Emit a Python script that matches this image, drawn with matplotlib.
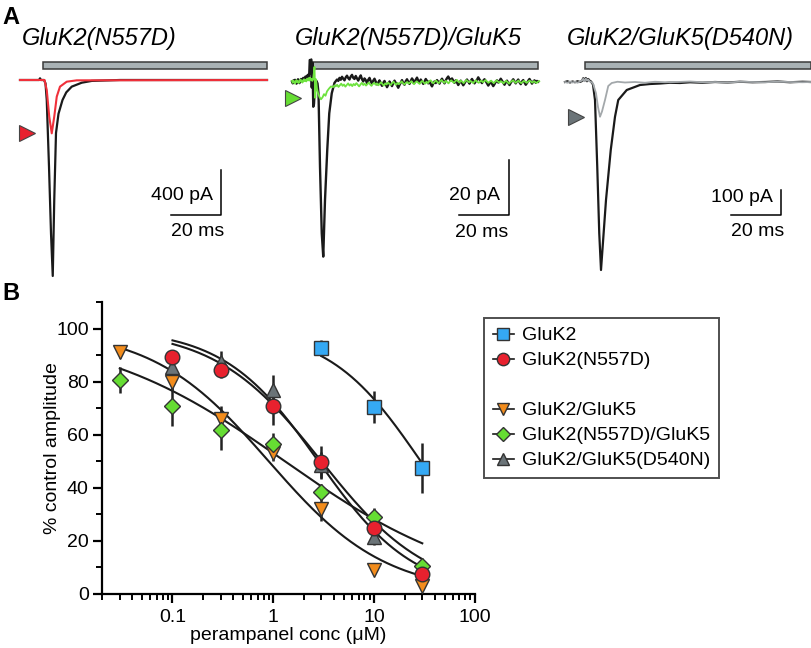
import numpy as np
import matplotlib
matplotlib.use('Agg')
import matplotlib.pyplot as plt
from matplotlib.lines import Line2D
from matplotlib.patches import Rectangle
from matplotlib.ticker import LogLocator, NullFormatter, FixedLocator

plt.rcParams['font.family'] = ['Liberation Sans', 'DejaVu Sans']

W, H = 812, 648

# ---------------- panel A traces (ms, pA) ----------------
# GluK2(N557D)
l_black_t = [0, 7.6, 8.0, 8.4, 9.6, 10.2, 10.7, 11.6, 12.4, 13.1, 13.7, 14.4, 15.4, 17.0, 18.5, 20.7, 24.7, 28.7, 40, 98.8]
l_black_v = [0, 0, 15, 0, 0, -30, -178, -770, -1363, -1742, -1067, -471, -300, -178, -110, -59, -24, -8, 0, 0]
l_red_t = [0, 9.8, 10.7, 11.7, 12.7, 13.7, 14.7, 16.0, 18.7, 22.7, 98.8]
l_red_v = [0, 0, -89, -326, -474, -326, -148, -59, -15, -3, 0]

# GluK2(N557D)/GluK5 (noisy)
m_black_pre = [0.2, -0.5, 0.6, -0.2, 0.8, 0.1, -0.6, 0.4, 1.0, 0.2, -0.4, 0.5, 1.1, 0.3,
               0.9, 1.5, 0.7, 1.4, 2.0, 1.2, 1.8, 2.6, 1.9]
m_black_t = [6.9, 7.1, 7.5, 7.7, 7.9, 8.2, 8.5, 8.8, 9.2, 9.7, 10.2, 10.6, 11.2, 11.9,
             12.5, 13.2, 14.1, 14.9, 15.9, 17.0]
m_black_v = [3.0, 8.0, 7.6, 8.2, -2.0, 7.0, -9.0, -8.0, -1.0, 0.5, -0.5, -4.0, -30.8, -55.0,
             -63.5, -42.9, -24.7, -11.4, -4.1, -0.3]
m_black_tail = [0.3, 0.9, 0.4, 1.5, 0.8, 1.9, 1.2, 0.6, 1.7, 2.3, 1.4, 0.9, 2.0, 2.6, 1.5, 1.1, 2.2, 1.3, 0.5, 1.6,
                2.4, 1.0, 0.2, 1.3, 0.7, -0.4, 0.8, 1.5, 0.3, -0.6, 0.5, 1.2, 0.1, -0.9, -0.2, 0.6, -0.5, -1.4, -0.3, 0.4,
                -0.8, -1.9, -1.0, 0.2, -0.6, -1.5, -0.4, 0.5, -0.3, -1.2, -2.1, -1.1, -0.2, 0.7, -0.4, -1.0, 0.3, 1.0, 0.1, -0.7,
                0.4, 1.3, 0.6, -0.3, 0.8, 1.6, 0.5, -0.2, 0.9, 0.2, -0.7, 0.1, 1.1, 0.4, -0.5, 0.3, -0.8, -1.6, -0.6, 0.2,
                -0.4, 0.7, 0.1, -0.6, 0.5, 1.2, 0.3, -0.5, 0.6, 1.4, 2.0, 1.1, 0.4, 1.3, 0.5, -0.3, 0.6, -0.2, -1.1, -0.3,
                0.5, -0.4, -1.2, -0.5, 0.3, 0.9, 0.2, -0.6, 0.4, 1.1, 0.3, -0.5, 0.2, 0.8, 1.7, 0.9, 0.2, -0.4, 0.5, 1.0,
                0.3, -0.5, -1.3, -0.6, 0.2, -0.7, -1.5, -0.8, 0.1, 0.6, -0.2, 0.4, 1.2, 0.5, -0.3, -1.0, -0.2, 0.5, -0.4, -1.1,
                -0.3, 0.4, 1.0, 0.2, -0.5, 0.3, 0.9, -0.1, -0.8, 0.2, 0.7, -0.2, -1.0, -0.4, 0.5, 1.1, 0.3, -0.6, 0.2, 0.6,
                -0.3, 0.4, 0.1]
m_green_pre = [0.4, -0.3, 0.5, 0.0, -0.6, 0.2, 0.7, -0.1, 0.3, -0.4, 0.4, 0.9, 0.1, 0.6, -0.2,
               0.5, 1.0, 0.3, 0.8, 0.2, 1.2, 0.6, 1.4, 0.5, 1.6, 0.8, 1.1, 0.4, 0.9]
m_green_t = [8.8, 9.0, 9.3, 9.6, 10.0, 10.4, 11.0, 11.6, 12.2, 12.8, 13.4, 14.0, 14.8, 15.6, 16.4, 17.0]
m_green_v = [3.6, 5.5, -5.8, 1.0, -2.5, -4.0, -5.5, -6.3, -5.6, -4.4, -5.0, -3.4, -2.4, -1.6, -1.9, -1.2]
m_green_tail = [-1.6, -1.0, -1.8, -1.2, -0.6, -1.4, -0.9, -1.7, -1.1, -0.5, -1.3, -0.8, -1.5, -0.7, -1.2, -0.4, -1.0, -1.6, -0.9, -0.3,
                -1.1, -0.6, -1.3, -0.8, -0.2, -0.9, -1.4, -0.7, -0.3, -1.0, -0.5, -1.2, -0.6, -0.1, -0.8, -1.3, -0.5, -0.9, -0.2, -0.7,
                -1.1, -0.4, 0.1, -0.6, -1.0, -0.3, -0.8, -0.2, 0.2, -0.5, -0.9, -0.3, 0.0, -0.6, -0.2, 0.3, -0.4, -0.8, -0.1, 0.2,
                -0.3, -0.7, 0.0, 0.4, -0.2, -0.6, 0.1, -0.4, 0.3, 0.6, 0.0, -0.5, 0.2, 0.5, -0.1, -0.4, 0.3, 0.7, 0.1, -0.3,
                0.4, 0.0, -0.5, 0.2, 0.6, 0.1, -0.3, 0.3, 0.8, 0.2, -0.2, 0.5, 0.1, -0.4, 0.2, 0.7, 0.3, -0.1, 0.4, 0.0,
                -0.4, 0.3, 0.6, 0.0, -0.3, 0.2, 0.5, -0.1, 0.3, 0.7, 0.2, -0.3, 0.1, 0.5, 0.0, -0.4, 0.2, 0.6, 0.1, -0.2,
                0.3, 0.0, -0.5, 0.1, 0.4, -0.1, -0.6, 0.0, 0.3, 0.6, 0.1, -0.3, 0.2, 0.5, -0.1, -0.4, 0.1, 0.4, 0.0, -0.3,
                0.2, 0.5, 0.1, -0.2, 0.3, 0.0, -0.4, 0.1, 0.3]

# GluK2/GluK5(D540N)
r_black_t = [0, 1, 2, 3, 4, 5, 6, 6.8, 7.3, 7.8, 8.3, 8.8, 9.3, 9.8, 10.4, 11.2, 12.0, 12.9, 13.7, 14.4, 15.2, 16.4,
             18.3, 20.0, 21.3, 24.7, 30, 34, 38, 42, 46, 50, 55, 60, 65, 70, 75, 80, 85, 90, 95, 98.4]
r_black_v = [0, 3, -2, 2, -1, 3, 0, 4, 15, 5, 16, 3, 12, 6, 2, -10, -72, -339, -605, -752, -640, -472,
             -272, -139, -72, -32, -12, -8, -6, -3, -4, -1, -3, 0, -2, 1, -1, 0, 2, -1, 1, 0]
r_grey_t = [0, 1, 2, 3, 4, 5, 6, 6.8, 7.3, 7.8, 8.3, 8.8, 9.3, 9.8, 10.4, 11.2, 12.4, 13.2, 14.0, 14.8, 16.0, 17.3,
            18.7, 21, 24, 28, 32, 36, 40, 45, 50, 55, 60, 65, 70, 75, 80, 85, 90, 95, 98.4]
r_grey_v = [0, -3, 2, -2, 1, -3, 2, 6, 13, 3, 14, 5, 10, 3, 0, -6, -45, -100, -139, -118, -72, -16,
            -4, 1, -2, 0, -3, 1, -1, 0, 2, -1, 0, -2, 1, 0, -1, 1, 0, -1, 0]

# ---------------- panel B data ----------------
conc = [0.03, 0.1, 0.3, 1, 3, 10, 30]
gluk2_x = [3, 10, 30]
gluk2_y = [92.6, 70.4, 47.4]
gluk2_e = [3, 6, 9.5]
n557d_x = [0.1, 0.3, 1, 3, 10, 30]
n557d_y = [89.4, 84.3, 70.7, 49.6, 24.9, 7.4]
n557d_e = [1.5, 3, 7, 6, 3, 1.5]
k2k5_y = [91, 80, 66, 53, 32, 9, 3]
k2k5_e = [2, 3, 5, 3, 4.5, 1, 1]
n557d_k5_y = [80.6, 70.8, 61.9, 56.6, 38.4, 28.9, 10.4]
n557d_k5_e = [5, 7.5, 7.5, 4, 3, 3.5, 1]
d540n_x = [0.1, 0.3, 1, 3, 10, 30]
d540n_y = [85.7, 87.5, 76.9, 48.5, 21.4, 10]
d540n_e = [2, 4, 5.5, 5, 3, 1]

# Hill fit parameters: (IC50 uM, slope, x range)
fits = {
    'GluK2': (29.0, 0.95, 3, 30),
    'GluK2(N557D)': (2.8, 0.92, 0.1, 30),
    'GluK2/GluK5': (0.9, 0.75, 0.03, 30),
    'GluK2(N557D)/GluK5': (1.3, 0.46, 0.03, 30),
    'GluK2/GluK5(D540N)': (3.0, 0.82, 0.1, 30),
}

c_blue = '#35a9f4'
c_red = '#e8212e'
c_orange = '#f28c1c'
c_green = '#66dd33'
c_grey = '#6b7478'
edge = '#333333'
bar_fc = '#a9b2b5'

fig = plt.figure(figsize=(W / 100, H / 100), dpi=100)


def px_axes(left, top, right, bottom):
    return fig.add_axes([left / W, 1 - bottom / H, (right - left) / W, (bottom - top) / H])


def trace_panel(left, right, top, bottom, t0_px, base_px, ms_px, pa_px):
    ax = px_axes(left, top, right, bottom)
    ax.set_xlim((left - t0_px) / ms_px, (right - t0_px) / ms_px)
    ax.set_ylim((base_px - bottom) / pa_px, (base_px - top) / pa_px)
    ax.axis('off')
    return ax


# left panel
axL = trace_panel(10, 272, 50, 290, 20, 80, 2.5, 0.1125)
axL.plot(l_black_t, l_black_v, color='#1a1a1a', lw=1.6, zorder=2)
axL.plot(l_red_t, l_red_v, color='#f0303a', lw=1.5, zorder=3)
axL.plot([2.8], [-474], marker='>', ms=12, color=c_red, mec='#444444', mew=0.8)
axL.add_patch(Rectangle((9.2, 98), 89.6, 62, facecolor=bar_fc, edgecolor='#3a3a3a', lw=1.1))
axL.plot([80.4, 80.4, 60.4], [-800, -1200, -1200], color='k', lw=1.1)
axL.text(77.2, -1030, '400 pA', ha='right', va='center', fontsize=14)
axL.text(71.0, -1345, '20 ms', ha='center', va='center', fontsize=14)

# middle panel
axM = trace_panel(278, 545, 50, 290, 292, 82, 2.5, 2.75)
tb = list(0.3 * np.arange(len(m_black_pre))) + m_black_t + list(17.5 + 0.5 * np.arange(len(m_black_tail)))
vb = m_black_pre + m_black_v + m_black_tail
tg = list(0.3 * np.arange(len(m_green_pre))) + m_green_t + list(17.5 + 0.55 * np.arange(len(m_green_tail)))
vg = m_green_pre + m_green_v + m_green_tail
axM.plot(tb, vb, color='#1a1a1a', lw=1.7, zorder=2)
axM.plot(tg, vg, color='#6ee33f', lw=1.3, zorder=3)
axM.plot([0.3], [-5.8], marker='>', ms=12, color=c_green, mec='#444444', mew=0.8)
axM.add_patch(Rectangle((8.4, 4.7), 90.0, 2.6, facecolor=bar_fc, edgecolor='#3a3a3a', lw=1.1))
axM.plot([86.8, 86.8, 66.8], [-28.4, -48.4, -48.4], color='k', lw=1.1)
axM.text(83.2, -41.2, '20 pA', ha='right', va='center', fontsize=14)
axM.text(76.0, -54.6, '20 ms', ha='center', va='center', fontsize=14)

# right panel
axR = trace_panel(548, 812, 50, 290, 565, 82, 2.5, 0.25)
axR.plot(r_black_t, r_black_v, color='#1a1a1a', lw=1.6, zorder=2)
axR.plot(r_grey_t, r_grey_v, color='#a3a8ab', lw=1.3, zorder=3)
axR.plot([4.4], [-139], marker='>', ms=12, color=c_grey, mec='#444444', mew=0.8)
axR.add_patch(Rectangle((8.0, 52), 90.4, 28, facecolor=bar_fc, edgecolor='#3a3a3a', lw=1.1))
axR.plot([86.4, 86.4, 66.4], [-432, -532, -532], color='k', lw=1.1)
axR.text(83.2, -462, '100 pA', ha='right', va='center', fontsize=14)
axR.text(77.2, -600, '20 ms', ha='center', va='center', fontsize=14)

for x, s in [(22, 'GluK2(N557D)'), (295, 'GluK2(N557D)/GluK5'), (567, 'GluK2/GluK5(D540N)')]:
    fig.text(x / W, 1 - 38 / H, s, fontsize=17, style='italic', va='center', ha='left')
fig.text(2 / W, 1 - 18 / H, 'A', fontsize=17, fontweight='bold', va='center', ha='left')
fig.text(2 / W, 1 - 293 / H, 'B', fontsize=17, fontweight='bold', va='center', ha='left')

# ---------------- panel B ----------------
ax = px_axes(102, 302, 475, 594)
ax.set_xscale('log')
ax.set_xlim(0.02, 100)
ax.set_ylim(0, 110)


def hill(name):
    ic50, nh, lo, hi = fits[name]
    xs = np.logspace(np.log10(lo), np.log10(hi), 200)
    return xs, 100.0 / (1.0 + (xs / ic50) ** nh)


for name in fits:
    xs, ys = hill(name)
    ax.plot(xs, ys, color='#1a1a1a', lw=1.5, zorder=2)

series = [
    (gluk2_x, gluk2_y, gluk2_e, 's', c_blue, 9.5, 'GluK2'),
    (n557d_x, n557d_y, n557d_e, 'o', c_red, 10.5, 'GluK2(N557D)'),
    (conc, k2k5_y, k2k5_e, 'v', c_orange, 10.5, 'GluK2/GluK5'),
    (conc, n557d_k5_y, n557d_k5_e, 'D', c_green, 8, 'GluK2(N557D)/GluK5'),
    (d540n_x, d540n_y, d540n_e, '^', c_grey, 10.5, 'GluK2/GluK5(D540N)'),
]
for x, y, e, m, c, ms, lab in series:
    ax.errorbar(x, y, yerr=e, fmt='none', ecolor='#222222', elinewidth=1.8, capsize=0, zorder=3)
for x, y, e, m, c, ms, lab in [series[4], series[2], series[3], series[1], series[0]]:
    ax.plot(x, y, linestyle='none', marker=m, ms=ms, mfc=c, mec=edge, mew=1.0, zorder=4)

for s in ['top', 'right']:
    ax.spines[s].set_visible(False)
for s in ['left', 'bottom']:
    ax.spines[s].set_linewidth(1.6)
ax.set_yticks([0, 20, 40, 60, 80, 100])
ax.yaxis.set_minor_locator(FixedLocator([10, 30, 50, 70, 90, 110]))
ax.set_xticks([0.1, 1, 10, 100])
ax.set_xticklabels(['0.1', '1', '10', '100'])
ax.xaxis.set_minor_locator(LogLocator(base=10, subs=np.arange(2, 10)))
ax.xaxis.set_minor_formatter(NullFormatter())
ax.tick_params(which='major', direction='out', length=6.5, width=1.6, labelsize=14)
ax.tick_params(axis='x', which='major', pad=4)
ax.tick_params(axis='y', which='major', pad=3)
ax.tick_params(which='minor', direction='out', length=4, width=1.4)
ax.set_xlabel('perampanel conc (\u03bcM)', fontsize=14, labelpad=1)
ax.set_ylabel('% control amplitude', fontsize=14)
ax.yaxis.set_label_coords(-0.11, 0.5)

handles = []
for x, y, e, m, c, ms, lab in series:
    handles.append(Line2D([], [], color='#1a1a1a', lw=1.2, marker=m, ms=ms * 0.85,
                          mfc=c, mec=edge, mew=1.0, label=lab))
handles.insert(2, Line2D([], [], linestyle='none', marker='none', label=' '))
leg = fig.legend(handles=handles, loc='upper left', bbox_to_anchor=(484 / W, 1 - 318 / H),
                 frameon=True, fancybox=False, fontsize=14, handlelength=1.1,
                 handletextpad=0.4, labelspacing=0.38, borderpad=0.45, borderaxespad=0)
leg.get_frame().set_edgecolor('#222222')
leg.get_frame().set_linewidth(1.4)

fig.savefig('out.png', dpi=100)
